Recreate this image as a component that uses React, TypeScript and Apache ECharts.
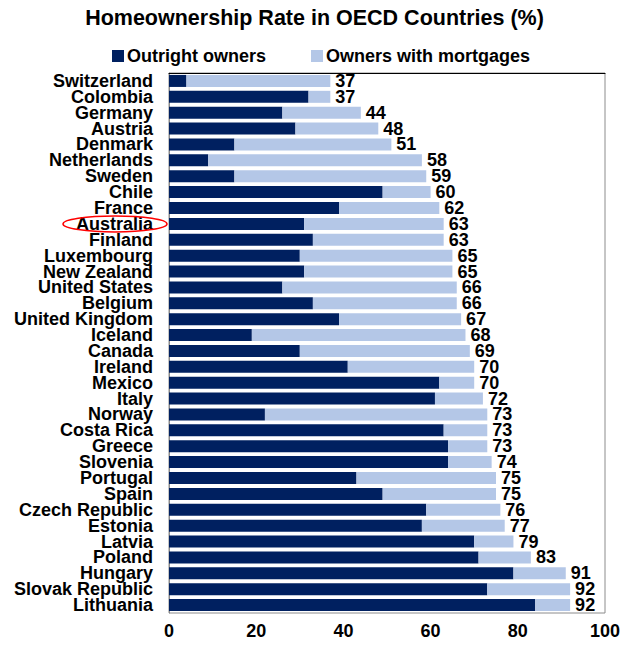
import React, { useEffect, useRef } from "react";
import * as echarts from "echarts";

const countries = [
  "Switzerland", "Colombia", "Germany", "Austria", "Denmark", "Netherlands", "Sweden", "Chile",
  "France", "Australia", "Finland", "Luxembourg", "New Zealand", "United States", "Belgium",
  "United Kingdom", "Iceland", "Canada", "Ireland", "Mexico", "Italy", "Norway", "Costa Rica",
  "Greece", "Slovenia", "Portugal", "Spain", "Czech Republic", "Estonia", "Latvia", "Poland",
  "Hungary", "Slovak Republic", "Lithuania",
];
const outright = [4, 32, 26, 29, 15, 9, 15, 49, 39, 31, 33, 30, 31, 26, 33, 39, 19, 30, 41, 62, 61, 22, 63, 64, 64, 43, 49, 59, 58, 70, 71, 79, 73, 84];
const mortgages = [33, 5, 18, 19, 36, 49, 44, 11, 23, 32, 30, 35, 34, 40, 33, 28, 49, 39, 29, 8, 11, 51, 10, 9, 10, 32, 26, 17, 19, 9, 12, 12, 19, 8];
const totals = [37, 37, 44, 48, 51, 58, 59, 60, 62, 63, 63, 65, 65, 66, 66, 67, 68, 69, 70, 70, 72, 73, 73, 73, 74, 75, 75, 76, 77, 79, 83, 91, 92, 92];
const xTicks = [0, 20, 40, 60, 80, 100];
const highlighted = "Australia";

const FONT = "'Liberation Sans', Arial, Helvetica, sans-serif";
const DARK = "#002060";
const LIGHT = "#b4c7e7";

export default function App() {
  const ref = useRef<HTMLDivElement>(null);
  useEffect(() => {
    if (!ref.current) return;
    const chart = echarts.init(ref.current, undefined, { renderer: "svg" });
    chart.setOption({
      animation: false,
      backgroundColor: "#ffffff",
      textStyle: { fontFamily: FONT },
      title: {
        text: "Homeownership Rate in OECD Countries (%)",
        left: "center",
        top: 7,
        padding: 0,
        textStyle: { fontFamily: FONT, fontSize: 21.5, fontWeight: "bold", color: "#000" },
      },
      legend: {
        left: 112,
        top: 47,
        padding: 0,
        itemWidth: 12,
        itemHeight: 12,
        itemGap: 45,
        icon: "rect",
        textStyle: { fontFamily: FONT, fontSize: 18, fontWeight: "bold", color: "#000", padding: [0, 0, 0, -2] },
        data: ["Outright owners", "Owners with mortgages"],
      },
      grid: {
        left: 169,
        right: 24,
        top: 73,
        bottom: 33,
        show: true,
        borderColor: "#8c8c8c",
        borderWidth: 1,
      },
      xAxis: [
        {
          type: "value",
          min: xTicks[0],
          max: xTicks[xTicks.length - 1],
          interval: 20,
          axisLine: { show: false },
          axisTick: { show: false },
          splitLine: { show: false },
          axisLabel: { fontFamily: FONT, fontSize: 18, lineHeight: 16, fontWeight: "bold", color: "#000", margin: 10 },
        },
        {
          type: "value",
          position: "top",
          min: xTicks[0],
          max: xTicks[xTicks.length - 1],
          interval: 20,
          axisLine: { show: true, lineStyle: { color: "#000", width: 1 } },
          axisTick: { show: false },
          splitLine: { show: false },
          axisLabel: { show: false },
        },
      ],
      yAxis: {
        type: "category",
        inverse: true,
        data: countries,
        axisLine: { show: true, lineStyle: { color: "#8c8c8c" } },
        axisTick: { show: false },
        axisLabel: { fontFamily: FONT, fontSize: 18, lineHeight: 15, fontWeight: "bold", color: "#000", margin: 16, interval: 0 },
      },
      series: [
        {
          name: "Outright owners",
          type: "bar",
          stack: "own",
          barWidth: 12,
          xAxisIndex: 0,
          itemStyle: { color: DARK },
          data: outright,
        },
        {
          name: "Owners with mortgages",
          type: "bar",
          stack: "own",
          barWidth: 12,
          xAxisIndex: 0,
          itemStyle: { color: LIGHT },
          data: mortgages,
          label: {
            show: true,
            position: "right",
            distance: 5,
            fontFamily: FONT,
            fontSize: 18,
            lineHeight: 15,
            fontWeight: "bold",
            color: "#000",
            formatter: (p: any) => String(totals[p.dataIndex]),
          },
        },
      ],
    });
    const yPix = chart.convertToPixel({ yAxisIndex: 0 }, highlighted) as number;
    chart.setOption({
      graphic: [
        {
          type: "ellipse",
          shape: { cx: 115, cy: yPix, rx: 52, ry: 8 },
          style: { fill: "none", stroke: "#ff0000", lineWidth: 1.5 },
          z: 100,
        },
      ],
    });
    return () => chart.dispose();
  }, []);
  return <div ref={ref} style={{ width: 629, height: 646, margin: -8 }} />;
}
